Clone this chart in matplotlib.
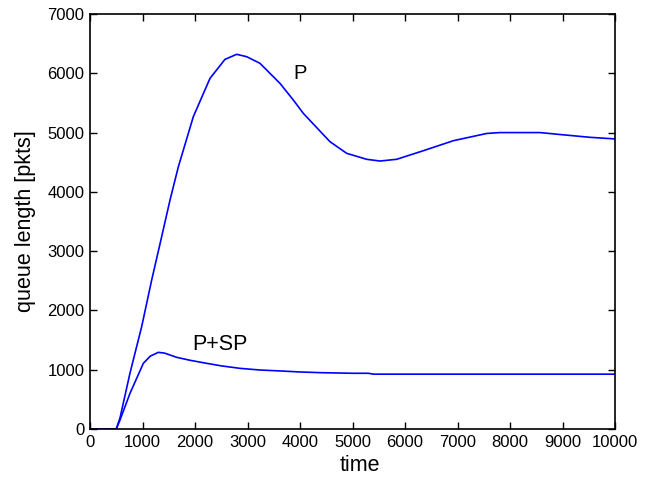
import matplotlib
matplotlib.use("Agg")
import matplotlib.pyplot as plt

plt.rcParams['font.family'] = ['Liberation Sans', 'DejaVu Sans']

t_p = [0, 500, 571, 762, 984, 1175, 1365, 1524, 1683, 1968, 2286, 2571, 2794, 2984,
       3238, 3619, 3873, 4063, 4571, 4889, 5270, 5524, 5841, 6349, 6921, 7556, 7810,
       8571, 9016, 9524, 10000]
q_p = [0, 0, 185, 944, 1726, 2513, 3244, 3862, 4424, 5268, 5915, 6235, 6320, 6280,
       6168, 5830, 5549, 5324, 4846, 4650, 4549, 4520, 4549, 4694, 4863, 4985, 5000,
       5000, 4962, 4920, 4893]

t_sp = [0, 500, 571, 762, 1016, 1150, 1302, 1420, 1524, 1651, 1900, 2222, 2500, 2857,
        3238, 3600, 4000, 4400, 5000, 5300, 5400, 6000, 7000, 8000, 9000, 10000]
q_sp = [0, 0, 150, 602, 1108, 1230, 1293, 1280, 1248, 1209, 1160, 1108, 1065, 1023,
        995, 980, 962, 950, 940, 940, 925, 925, 925, 925, 925, 925]

x_ticks = list(range(0, 10001, 1000))
y_ticks = list(range(0, 7001, 1000))

fig = plt.figure(figsize=(6.51, 4.79), dpi=100)
ax = fig.add_axes([90/651, 50/479, 525/651, 415/479])
ax.plot(t_p, q_p, color='#0000ff', lw=1.2)
ax.plot(t_sp, q_sp, color='#0000ff', lw=1.2)
ax.set_xlim(0, 10000)
ax.set_ylim(0, 7000)
ax.set_xticks(x_ticks)
ax.set_yticks(y_ticks)
ax.tick_params(direction='in', labelsize=12, length=5, width=1, top=True, right=True, pad=4)
for s in ax.spines.values():
    s.set_linewidth(1.2)
ax.set_xlabel('time', fontsize=15.5)
ax.xaxis.set_label_coords(0.514, -0.063)
ax.set_ylabel('queue length [pkts]', fontsize=15.5, labelpad=8)
ax.text(3880, 5900, 'P', fontsize=14.5, va='baseline')
ax.text(1950, 1332, 'P+SP', fontsize=15.5, va='baseline')
fig.savefig('out.png', dpi=100)
